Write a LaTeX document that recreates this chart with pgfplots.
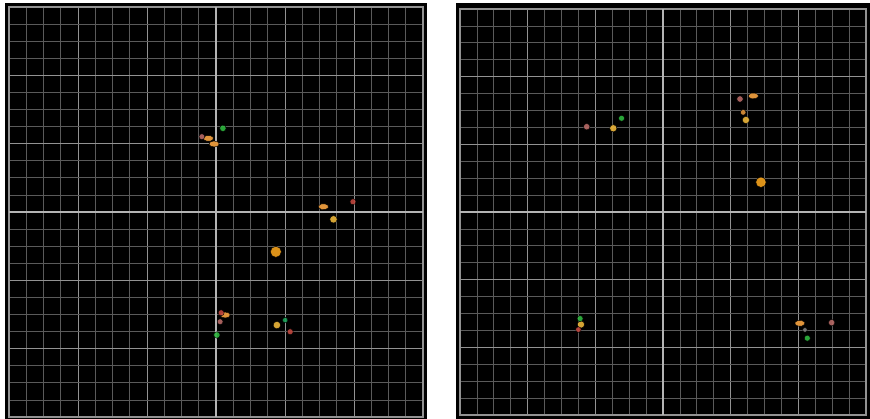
\documentclass[border=0pt]{standalone}
\usepackage{pgfplots}
\pgfplotsset{compat=1.18}
\definecolor{mgrid}{HTML}{929292}
\definecolor{ngrid}{HTML}{5A5A5A}
\definecolor{cgrid}{HTML}{B4B4B4}
\definecolor{cor}{HTML}{E0943A}
\definecolor{cyel}{HTML}{EDB63A}
\definecolor{cbig}{HTML}{F5A21C}
\definecolor{cred}{HTML}{C0463E}
\definecolor{cpink}{HTML}{B86A66}
\definecolor{cgrn}{HTML}{2FB840}
\pgfplotsset{
  panel/.style={
    scale only axis, anchor=south west,
    xmin=-12, xmax=12, ymin=-12, ymax=12,
    xtick={-12,-8,-4,0,4,8,12}, ytick={-12,-8,-4,0,4,8,12},
    minor tick num=3,
    xticklabels={}, yticklabels={},
    major tick length=0pt, minor tick length=0pt,
    grid=both,
    major grid style={mgrid, line width=0.9pt},
    minor grid style={ngrid, line width=0.7pt},
    axis line style={draw=mgrid, line width=1.3pt},
    extra x ticks={0}, extra y ticks={0},
    extra x tick labels={}, extra y tick labels={},
    extra tick style={grid=major, major grid style={cgrid, line width=1.5pt}},
    clip=false,
  },
  blob/.style={only marks, mark=*, mark size=3.4pt, mark options={draw=none, fill=#1, fill opacity=0.9}},
  dash/.style={only marks, mark=*, mark size=3.0pt, mark options={draw=none, fill=#1, xscale=1.7, rotate=25}},
}
\begin{document}
\begin{tikzpicture}
\path[use as bounding box, fill=white] (0pt,0pt) rectangle (870pt,419pt);
\fill[black] (5pt,0pt) rectangle (427pt,416pt);
\fill[black] (456pt,0pt) rectangle (870pt,416pt);
% left panel
\begin{axis}[panel, at={(9pt,2pt)}, width=414pt, height=410pt]
\addplot[dash=cor] coordinates {(-0.44,4.31) (6.23,0.31)};
\addplot[dash=cor, mark options={draw=none, fill=cor, xscale=1.7, rotate=-40}] coordinates {(-0.11,3.98) (0.53,-6.03)};
\addplot[blob=cyel, mark size=3.7pt] coordinates {(6.81,-0.43) (3.53,-6.62)};
\addplot[blob=cbig, mark size=5.5pt] coordinates {(3.47,-2.33)};
\addplot[blob=cred, mark size=3.0pt] coordinates {(7.94,0.60) (4.30,-7.01) (0.30,-5.90)};
\addplot[blob=cpink, mark size=2.9pt] coordinates {(-0.82,4.41) (0.24,-6.42)};
\addplot[blob=cgrn, mark size=3.2pt] coordinates {(0.40,4.90) (0.05,-7.20)};
\addplot[blob=cgrn!60!teal, mark size=2.7pt] coordinates {(4.01,-6.33)};
\end{axis}
% right panel
\begin{axis}[panel, at={(460pt,4pt)}, width=406pt, height=406pt]
\addplot[dash=cor] coordinates {(5.34,6.86) (8.09,-6.58)};
\addplot[blob=cyel, mark size=3.6pt] coordinates {(-2.94,4.95) (4.90,5.44) (-4.85,-6.65)};
\addplot[blob=cor, mark size=2.8pt] coordinates {(4.74,5.89)};
\addplot[blob=cbig, mark size=5.2pt] coordinates {(5.79,1.76)};
\addplot[blob=cpink, mark size=3.2pt] coordinates {(-4.51,5.04) (4.55,6.68) (9.97,-6.54)};
\addplot[blob=cred, mark size=2.8pt] coordinates {(-5.0,-6.95)};
\addplot[blob=cgrn, mark size=3.0pt] coordinates {(-2.45,5.54) (-4.90,-6.30) (8.53,-7.46)};
\addplot[blob=gray, mark size=2.3pt] coordinates {(8.39,-6.97)};
\end{axis}
\end{tikzpicture}
\end{document}
